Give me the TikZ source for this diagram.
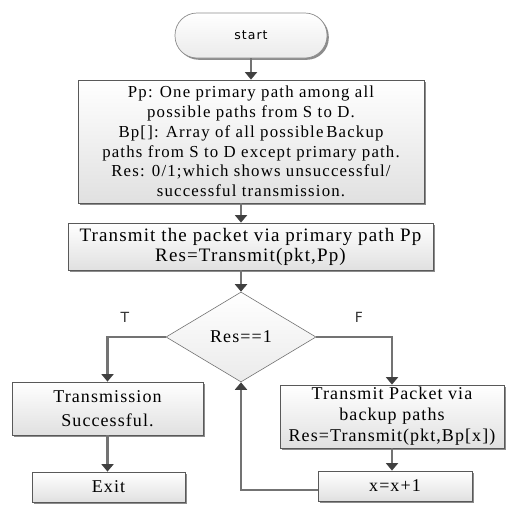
\documentclass[tikz,border=0pt]{standalone}
\usepackage{fontspec}
\setmainfont{Liberation Serif}
\newfontfamily\bx[LetterSpace=6]{Liberation Serif}
\newfontfamily\bxw[LetterSpace=7]{Liberation Serif}
\newfontfamily\sx[LetterSpace=8]{DejaVu Sans}
\usetikzlibrary{arrows.meta,shapes.geometric,shadows}
\begin{document}
\begin{tikzpicture}[x=1pt,y=-1pt,
  box/.style={draw=black!65, line width=0.8pt, top color=white, bottom color=black!12,
    drop shadow={shadow xshift=1.8pt, shadow yshift=-1.8pt, fill=black!45, opacity=1},
    inner sep=0pt, align=center, font=\bx\fontsize{18}{21}\selectfont},
  arr/.style={draw=black!55, line width=2.6pt, -{Triangle[width=12pt,length=7.5pt,color=black!75]}},
  lbl/.style={font=\sx\fontsize{14}{16}\selectfont, text=black!80}
]
\useasboundingbox[fill=white] (0,0) rectangle (508,504);

\node[box, rounded corners=22pt, draw=black!45, line width=0.7pt, bottom color=black!8,
  minimum width=152pt, minimum height=45pt, font=\sx\fontsize{12.5}{14}\selectfont]
  (st) at (251,35.5) {start};

\node[box, minimum width=346pt, minimum height=123pt, font=\bxw\fontsize{16.8}{19.8}\selectfont]
  (b2) at (251,141.5) {Pp: One primary path among all\\possible paths from S to D.\\Bp[]: Array of all possible\,Backup\\paths from S to D except primary path.\\Res: 0/1;which shows unsuccessful/\\successful transmission.};

\node[box, minimum width=365pt, minimum height=47pt, font=\bx\fontsize{19}{20}\selectfont]
  (b3) at (250.5,246.5) {Transmit the packet via primary path Pp\\Res=Transmit(pkt,Pp)};

\node[shape=diamond, draw=black!55, line width=0.6pt, top color=white, bottom color=black!8,
  minimum width=150pt, minimum height=90pt, inner sep=0pt, font=\bx\fontsize{18}{21}\selectfont]
  (d) at (241,337) {Res==1};

\node[box, minimum width=191pt, minimum height=53pt, font=\bx\fontsize{18}{24}\selectfont]
  (b4) at (107.5,408.5) {Transmission\\Successful.};

\node[box, minimum width=153pt, minimum height=30pt] (ex) at (108.5,487) {Exit};

\node[box, minimum width=224pt, minimum height=63pt] (b5) at (392,416.5)
  {Transmit Packet via\\backup paths\\Res=Transmit(pkt,Bp[x])};

\node[box, minimum width=154pt, minimum height=30pt] (b6) at (395,486) {x=x+1};

\node[lbl] (t) at (125,317) {T};
\node[lbl] (f) at (359,317) {F};

\draw[arr] (st.south) -- (b2.north);
\draw[arr] (b2.south -| d.north) -- (b3.north -| d.north);
\draw[arr] (b3.south -| d.north) -- (d.north);
\draw[arr] (d.west) -| (b4.north);
\draw[arr] (d.east) -| (b5.north);
\draw[arr] (b4.south) -- (b4.south |- ex.north);
\draw[arr] (b5.south) -- (b5.south |- b6.north);
\draw[arr] ([yshift=-4pt]b6.west) -| (d.south);
\end{tikzpicture}
\end{document}
